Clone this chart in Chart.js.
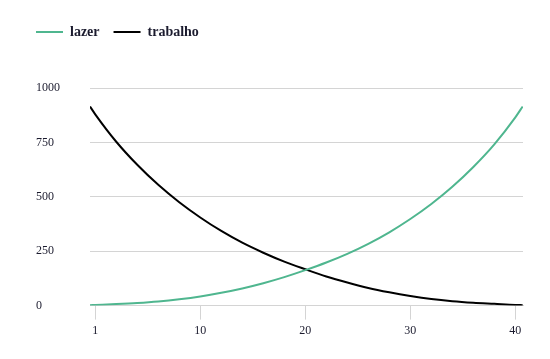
<!DOCTYPE html>
<html>
<head>
<meta charset="utf-8">
<script src="https://cdn.jsdelivr.net/npm/chart.js@4/dist/chart.umd.min.js"></script>
<style>
  html, body { margin: 0; padding: 0; background: #fff; }
  #grafico-wrap { width: 550px; height: 359px; }
</style>
</head>
<body>
<div id="grafico-wrap"><canvas id="grafico"></canvas></div>
<script>
// valores
const posicoes = [-0.5, 0, 2, 4, 6, 8, 10, 12, 14, 16, 18, 20, 22, 24, 26, 28, 30, 32, 34, 36, 38, 40, 40.7];
const lazer = [2, 3, 7, 12, 19, 29, 42, 59, 79, 103, 131, 163, 198, 238, 284, 337, 398, 467, 546, 637, 741, 865, 915];
const trabalho = [915, 879, 753, 647, 555, 475, 405, 343, 289, 243, 202, 167, 134, 106, 81, 61, 44, 30, 20, 13, 8, 3, 2];

const ticksX = [0, 10, 20, 30, 40];
const rotulosX = ["1", "10", "20", "30", "40"];
const ticksY = [0, 250, 500, 750, 1000];

const COR = {
  verde: "#4fb68f",
  preto: "#000000",
  texto: "#1b1b2e",
  grade: "#d4d4d4",
};

const fonte = '"Liberation Serif", "DejaVu Serif", serif';

const pontos = (ys) => posicoes.map((x, i) => ({ x: x, y: ys[i] }));

// legenda: mais espaço abaixo e alinhada com os rótulos do eixo y
const ajusteLegenda = {
  id: "ajusteLegenda",
  beforeInit(chart) {
    const fitOrig = chart.legend.fit;
    chart.legend.fit = function () {
      fitOrig.bind(chart.legend)();
      this.height += 39;
    };
  },
  afterLayout(chart) {
    chart.legend.left -= 14;
  },
};

new Chart(document.getElementById("grafico"), {
  type: "line",
  data: {
    datasets: [
      {
        label: "lazer",
        data: pontos(lazer),
        borderColor: COR.verde,
        backgroundColor: COR.verde,
        borderWidth: 2,
        pointRadius: 0,
        cubicInterpolationMode: "monotone",
      },
      {
        label: "trabalho",
        data: pontos(trabalho),
        borderColor: COR.preto,
        backgroundColor: COR.preto,
        borderWidth: 2,
        pointRadius: 0,
        cubicInterpolationMode: "monotone",
      },
    ],
  },
  options: {
    responsive: true,
    maintainAspectRatio: false,
    animation: false,
    devicePixelRatio: 1,
    layout: {
      padding: { left: 36, right: 27, top: 11, bottom: 17 },
    },
    scales: {
      x: {
        type: "linear",
        min: -0.5,
        max: 40.73,
        afterBuildTicks: (axis) => {
          axis.ticks = ticksX.map((v) => ({ value: v }));
        },
        ticks: {
          autoSkip: false,
          maxRotation: 0,
          padding: 4,
          color: COR.texto,
          font: { family: fonte, size: 12 },
          callback: (val, index) => rotulosX[index],
        },
        grid: {
          drawOnChartArea: false,
          drawTicks: true,
          tickLength: 14,
          color: COR.grade,
        },
        border: { display: true, color: COR.grade },
      },
      y: {
        min: 0,
        max: 1000,
        afterBuildTicks: (axis) => {
          axis.ticks = ticksY.map((v) => ({ value: v }));
        },
        afterFit: (axis) => {
          axis.width = 54;
        },
        ticks: {
          crossAlign: "far",
          color: COR.texto,
          font: { family: fonte, size: 12 },
          callback: (val) => String(val),
        },
        grid: {
          color: COR.grade,
          drawTicks: false,
        },
        border: { display: false },
      },
    },
    plugins: {
      legend: {
        position: "top",
        align: "start",
        labels: {
          usePointStyle: true,
          pointStyle: "line",
          pointStyleWidth: 27,
          boxHeight: 14,
          padding: 14,
          color: COR.texto,
          font: { family: fonte, size: 14, weight: "bold" },
        },
      },
      tooltip: { enabled: false },
    },
  },
  plugins: [ajusteLegenda],
});
</script>
</body>
</html>
